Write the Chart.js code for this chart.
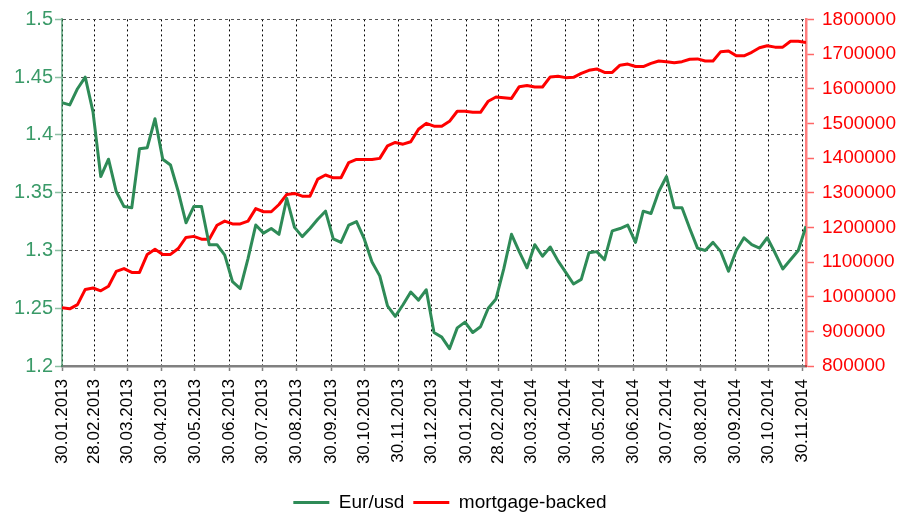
<!DOCTYPE html>
<html>
<head>
<meta charset="utf-8">
<script src="https://cdn.jsdelivr.net/npm/chart.js@4.4.1/dist/chart.umd.min.js"></script>
<style>
  html, body { margin: 0; padding: 0; background: #fff; }
</style>
</head>
<body>
<canvas id="chart" width="900" height="514"></canvas>
<script>
// weekly observations starting from this date
const startDate = '30.01.2013';

const monthLabels = [
  '30.01.2013', '28.02.2013', '30.03.2013', '30.04.2013', '30.05.2013', '30.06.2013',
  '30.07.2013', '30.08.2013', '30.09.2013', '30.10.2013', '30.11.2013', '30.12.2013',
  '30.01.2014', '28.02.2014', '30.03.2014', '30.04.2014', '30.05.2014', '30.06.2014',
  '30.07.2014', '30.08.2014', '30.09.2014', '30.10.2014', '30.11.2014'
];

const eurUsd = [
  1.428, 1.426, 1.440, 1.450, 1.420, 1.364, 1.379, 1.351, 1.338, 1.337,
  1.388, 1.389, 1.414, 1.379, 1.374, 1.351, 1.324, 1.338, 1.338, 1.305,
  1.305, 1.296, 1.273, 1.267, 1.293, 1.322, 1.315, 1.319, 1.314, 1.345,
  1.320, 1.312, 1.319, 1.327, 1.334, 1.310, 1.307, 1.322, 1.325, 1.310,
  1.290, 1.278, 1.252, 1.243, 1.253, 1.264, 1.257, 1.266, 1.229, 1.225,
  1.215, 1.233, 1.238, 1.229, 1.234, 1.250, 1.258, 1.284, 1.314, 1.299,
  1.285, 1.305, 1.295, 1.303, 1.291, 1.281, 1.271, 1.275, 1.298, 1.299,
  1.292, 1.317, 1.319, 1.322, 1.307, 1.334, 1.332, 1.351, 1.364, 1.337,
  1.337, 1.319, 1.302, 1.300, 1.307, 1.299, 1.282, 1.300, 1.311, 1.305,
  1.302, 1.311, 1.298, 1.284, 1.292, 1.300, 1.321
];

const mortgageBacked = [
  968000, 965000, 977000, 1021000, 1025000, 1017000, 1030000, 1073000, 1081000, 1070000,
  1070000, 1122000, 1137000, 1122000, 1122000, 1139000, 1171000, 1174000, 1166000, 1166000,
  1206000, 1218000, 1210000, 1210000, 1218000, 1254000, 1245000, 1245000, 1266000, 1295000,
  1298000, 1290000, 1290000, 1339000, 1351000, 1343000, 1343000, 1387000, 1396000, 1396000,
  1396000, 1399000, 1435000, 1445000, 1440000, 1447000, 1483000, 1500000, 1492000, 1492000,
  1506000, 1535000, 1535000, 1532000, 1532000, 1564000, 1576000, 1574000, 1572000, 1606000,
  1609000, 1605000, 1605000, 1634000, 1636000, 1632000, 1633000, 1644000, 1653000, 1657000,
  1647000, 1647000, 1668000, 1671000, 1664000, 1664000, 1673000, 1680000, 1678000, 1675000,
  1678000, 1685000, 1686000, 1680000, 1680000, 1707000, 1709000, 1695000, 1695000, 1705000,
  1718000, 1724000, 1720000, 1720000, 1737000, 1737000, 1733000
];

const leftTicks = [1.2, 1.25, 1.3, 1.35, 1.4, 1.45, 1.5];
const rightTicks = [800000, 900000, 1000000, 1100000, 1200000, 1300000, 1400000, 1500000, 1600000, 1700000, 1800000];

// days since startDate, so the linear x axis works like a date axis
function toDay(s) {
  const p = s.split('.');
  const a = startDate.split('.');
  return (Date.UTC(+p[2], +p[1] - 1, +p[0]) - Date.UTC(+a[2], +a[1] - 1, +a[0])) / 86400000;
}
function weekDay(i) { return i * 7; }

const monthDays = monthLabels.map(toDay);
const lastDay = weekDay(eurUsd.length - 1);

const GREEN = '#2e8b57';

Chart.defaults.font.family = "'Liberation Sans', Arial, sans-serif";
Chart.defaults.color = '#000';

new Chart(document.getElementById('chart'), {
  type: 'line',
  data: {
    datasets: [
      {
        label: 'Eur/usd',
        data: eurUsd.map((v, i) => ({ x: weekDay(i), y: v })),
        borderColor: GREEN,
        backgroundColor: GREEN,
        borderWidth: 3,
        pointRadius: 0,
        borderJoinStyle: 'round',
        yAxisID: 'y'
      },
      {
        label: 'mortgage-backed',
        data: mortgageBacked.map((v, i) => ({ x: weekDay(i), y: v })),
        borderColor: '#ff0000',
        backgroundColor: '#ff0000',
        borderWidth: 3,
        pointRadius: 0,
        borderJoinStyle: 'round',
        yAxisID: 'y1'
      }
    ]
  },
  options: {
    responsive: false,
    animation: false,
    // negative bottom padding lets the legend sit as low as in the original
    layout: { padding: { top: 19, left: 0, right: 0, bottom: -8 } },
    plugins: {
      tooltip: { enabled: false },
      legend: {
        position: 'bottom',
        labels: {
          usePointStyle: true,
          pointStyle: 'line',
          pointStyleWidth: 36,
          padding: 9,
          color: '#000',
          font: { size: 19 }
        }
      }
    },
    scales: {
      x: {
        type: 'linear',
        bounds: 'data',
        min: 0,
        max: lastDay,
        afterBuildTicks: s => { s.ticks = monthDays.map(v => ({ value: v })); },
        afterFit: s => { s.height = 118; },
        ticks: {
          autoSkip: false,
          minRotation: 90,
          maxRotation: 90,
          padding: 8,
          color: '#000',
          font: { size: 17 },
          callback: (v, i) => monthLabels[i]
        },
        grid: { color: '#000', lineWidth: 1, tickLength: 5, tickColor: '#808080', tickWidth: 1.5 },
        border: { display: true, color: '#808080', width: 2.5, dash: [2, 3] }
      },
      y: {
        position: 'left',
        min: 1.2,
        max: 1.5,
        afterBuildTicks: s => { s.ticks = leftTicks.map(v => ({ value: v })); },
        afterFit: s => { s.width = 62; },
        ticks: {
          color: '#3a9a68',
          font: { size: 20 },
          padding: 2,
          callback: v => String(+v.toFixed(2))
        },
        grid: { color: '#555', lineWidth: 1, tickLength: 7, tickColor: 'rgba(46,139,87,0.55)', tickWidth: 1.5 },
        border: { color: 'rgba(46,139,87,0.6)', width: 2, dash: [3, 3] }
      },
      y1: {
        position: 'right',
        min: 800000,
        max: 1800000,
        afterBuildTicks: s => { s.ticks = rightTicks.map(v => ({ value: v })); },
        afterFit: s => { s.width = 94; },
        ticks: {
          color: '#ff0000',
          font: { size: 19 },
          padding: 8,
          callback: v => String(v)
        },
        grid: { drawOnChartArea: false, tickLength: 8, tickColor: 'rgba(255,0,0,0.6)', tickWidth: 1.5 },
        border: { color: 'rgba(255,0,0,0.5)', width: 2.5 }
      }
    }
  }
});
</script>
</body>
</html>
